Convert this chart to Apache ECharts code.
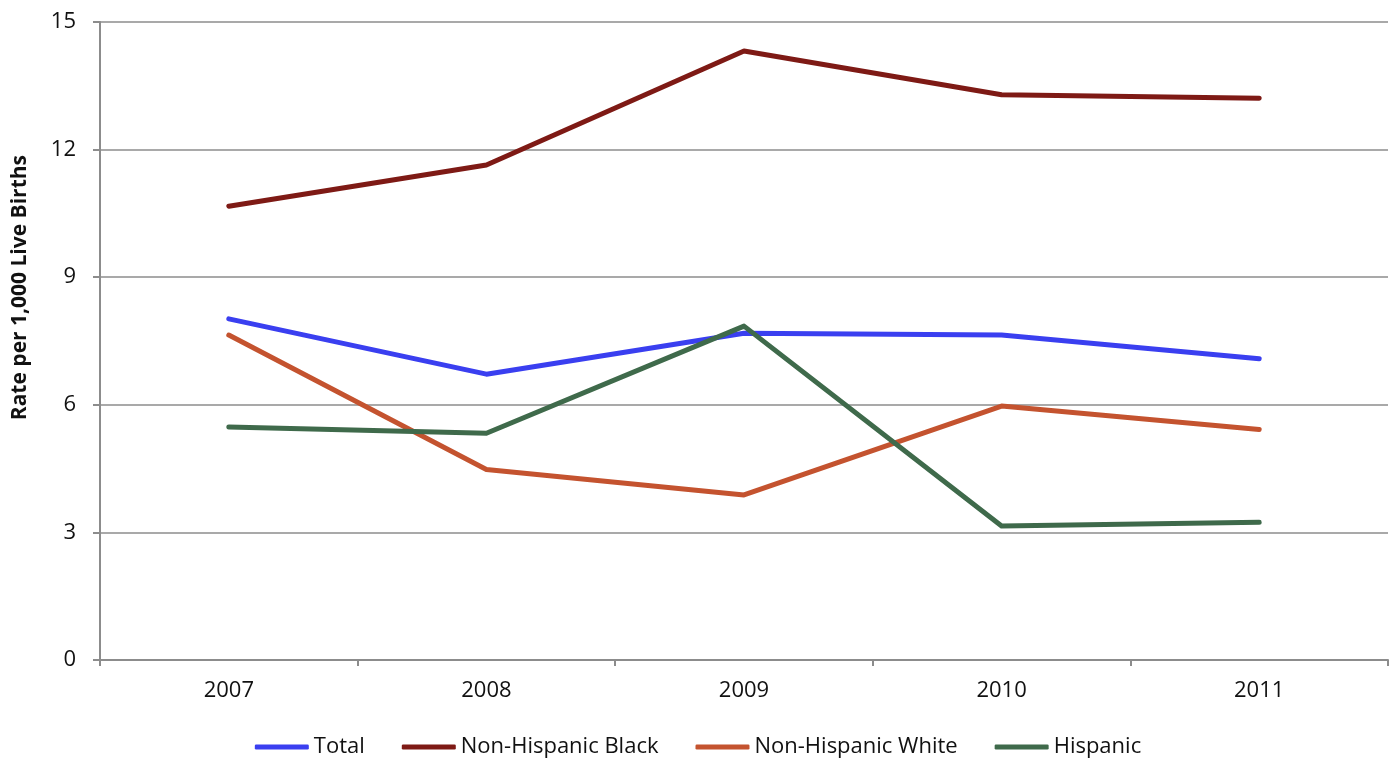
<!DOCTYPE html>
<html>
<head>
<meta charset="utf-8">
<script src="https://cdn.jsdelivr.net/npm/echarts@6/dist/echarts.min.js"></script>
<style>
  html, body { margin: 0; padding: 0; background: #fff; }
  #chart { width: 1396px; height: 762px; }
</style>
</head>
<body>
<div id="chart"></div>
<script>
// Infant mortality rate per 1,000 live births, by race/ethnicity
const years = ['2007', '2008', '2009', '2010', '2011'];
const total = [8.02, 6.72, 7.68, 7.64, 7.08];
const nonHispanicBlack = [10.67, 11.64, 14.32, 13.29, 13.21];
const nonHispanicWhite = [7.64, 4.48, 3.88, 5.97, 5.42];
const hispanic = [5.48, 5.33, 7.85, 3.15, 3.24];
const yTicks = { min: 0, max: 15, interval: 3 };
const yTitle = 'Rate per 1,000 Live Births';

const font = "'Open Sans', 'Liberation Sans', sans-serif";
const gridColor = '#8c8c8c';
const textColor = '#111';

function lineSeries(name, data, color) {
  return {
    name: name,
    type: 'line',
    data: data,
    symbol: 'none',
    lineStyle: { color: color, width: 5, cap: 'round', join: 'round' },
    itemStyle: { color: color },
    emphasis: { disabled: true }
  };
}

const chart = echarts.init(document.getElementById('chart'), null, { renderer: 'canvas' });
chart.setOption({
  animation: false,
  backgroundColor: '#fff',
  grid: { left: 100, right: 8, top: 22, bottom: 102, containLabel: false },
  legend: {
    top: 731,
    left: 'center',
    itemWidth: 54,
    itemHeight: 5,
    itemGap: 37,
    icon: 'roundRect',
    textStyle: { fontFamily: font, fontSize: 22, color: textColor },
    data: ['Total', 'Non-Hispanic Black', 'Non-Hispanic White', 'Hispanic']
  },
  // axis title, placed to the left of the value axis
  graphic: [{
    type: 'text',
    left: 10,
    top: 155,
    rotation: Math.PI / 2,
    style: {
      text: yTitle,
      fontFamily: font,
      fontSize: 21,
      fontWeight: 'bold',
      fill: textColor
    }
  }],
  xAxis: {
    type: 'category',
    data: years,
    boundaryGap: true,
    axisLine: { lineStyle: { color: gridColor, width: 2 } },
    axisTick: { show: true, length: 6, lineStyle: { color: gridColor, width: 2 } },
    axisLabel: { fontFamily: font, fontSize: 22, color: textColor, margin: 20 },
    splitLine: { show: false }
  },
  yAxis: {
    type: 'value',
    min: yTicks.min,
    max: yTicks.max,
    interval: yTicks.interval,
    axisLine: { show: true, lineStyle: { color: gridColor, width: 2 } },
    axisTick: { show: true, length: 7, lineStyle: { color: gridColor, width: 2 } },
    axisLabel: { fontFamily: font, fontSize: 22, color: textColor, margin: 24 },
    splitLine: { show: true, lineStyle: { color: gridColor, width: 1.5 } }
  },
  series: [
    lineSeries('Total', total, '#3a3ff0'),
    lineSeries('Non-Hispanic Black', nonHispanicBlack, '#7e1a15'),
    lineSeries('Non-Hispanic White', nonHispanicWhite, '#c4532f'),
    lineSeries('Hispanic', hispanic, '#3f6a4b')
  ]
});
</script>
</body>
</html>
